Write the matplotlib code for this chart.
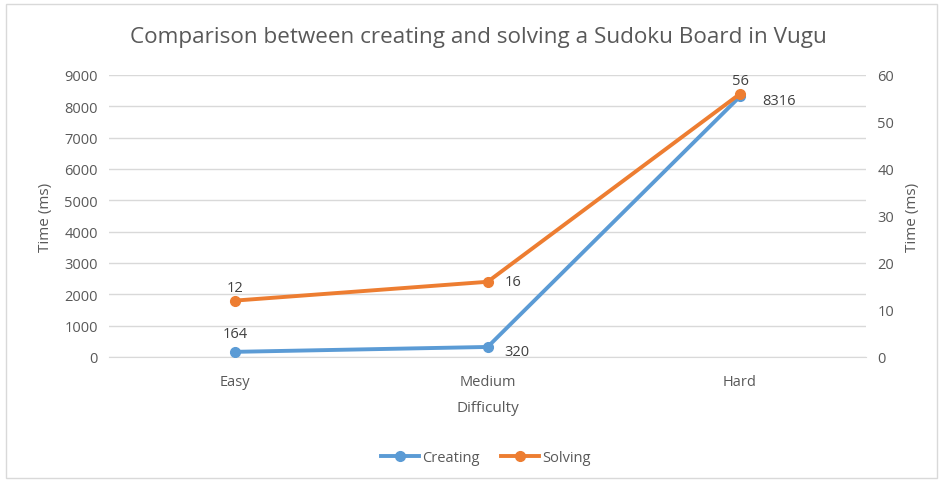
import matplotlib.pyplot as plt
from matplotlib.patches import Rectangle

plt.rcParams['font.family'] = ['Open Sans', 'DejaVu Sans']

difficulty = ['Easy', 'Medium', 'Hard']
creating = [164, 320, 8316]
solving = [12, 16, 56]

text_col = '#595959'
blue = '#5B9BD5'
orange = '#ED7D31'

fig = plt.figure(figsize=(9.43, 4.85), dpi=100)
fig.patches.append(Rectangle((0.006, 0.012), 0.988, 0.978, transform=fig.transFigure,
                             fill=False, edgecolor='#d9d9d9', linewidth=1))

ax1 = fig.add_axes([0.1156, 0.2619, 0.803, 0.5814])
ax2 = ax1.twinx()

x = list(range(len(difficulty)))
ax1.plot(x, creating, color=blue, linewidth=2.8, marker='o', markersize=7, label='Creating', zorder=3)
ax2.plot(x, solving, color=orange, linewidth=2.8, marker='o', markersize=7, label='Solving', zorder=3)

ax1.set_xlim(-0.5, 2.5)
ax1.set_ylim(0, 9000)
ax1.set_yticks(range(0, 9001, 1000))
ax2.set_ylim(0, 60)
ax2.set_yticks(range(0, 61, 10))
ax1.set_xticks(x)
ax1.set_xticklabels(difficulty)

ax1.grid(axis='y', color='#d9d9d9', linewidth=1)
ax1.set_axisbelow(True)
for a in (ax1, ax2):
    for s in a.spines.values():
        s.set_visible(False)
    a.tick_params(length=0, labelsize=10.5, colors=text_col, pad=8)
ax1.spines['bottom'].set_visible(True)
ax1.spines['bottom'].set_color('#d9d9d9')
ax1.tick_params(axis='x', pad=12)

ax1.set_ylabel('Time (ms)', fontsize=11, color=text_col, labelpad=8)
ax2.set_ylabel('Time (ms)', fontsize=11, color=text_col, labelpad=8)
ax1.set_xlabel('Difficulty', fontsize=11, color=text_col, labelpad=8)

# data labels
c_off = [(0, 8), (12, -3), (16, -3)]
for i, v in enumerate(creating):
    ha = 'center' if c_off[i][0] == 0 else 'left'
    ax1.annotate(str(v), (x[i], v), xytext=c_off[i], textcoords='offset points',
                 ha=ha, va='bottom' if ha == 'center' else 'center',
                 fontsize=10.5, color='#404040')
s_off = [(0, 4), (12, 0), (0, 4)]
for i, v in enumerate(solving):
    ha = 'center' if s_off[i][0] == 0 else 'left'
    ax2.annotate(str(v), (x[i], v), xytext=s_off[i], textcoords='offset points',
                 ha=ha, va='bottom' if ha == 'center' else 'center',
                 fontsize=10.5, color='#404040')

fig.suptitle('Comparison between creating and solving a Sudoku Board in Vugu',
             x=0.507, y=0.945, fontsize=16.2, color=text_col)

h1, l1 = ax1.get_legend_handles_labels()
h2, l2 = ax2.get_legend_handles_labels()
fig.legend(h1 + h2, l1 + l2, loc='center', bbox_to_anchor=(0.515, 0.055), ncol=2,
           frameon=False, fontsize=10.5, labelcolor=text_col, handlelength=2.6,
           handletextpad=0.2, columnspacing=1.5)

plt.savefig('out.png', dpi=100)
